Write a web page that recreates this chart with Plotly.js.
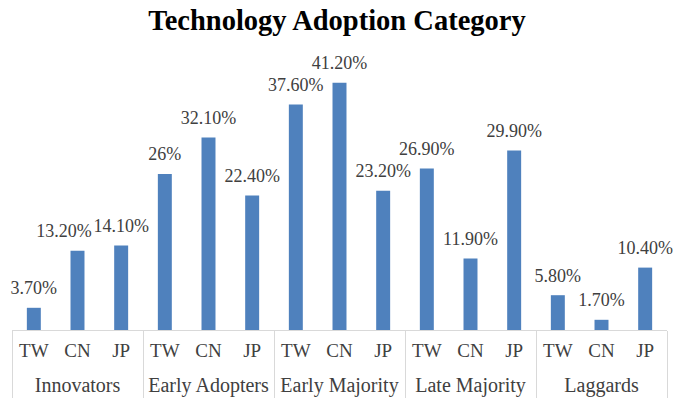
<!DOCTYPE html>
<html>
<head>
<meta charset="utf-8">
<script src="https://cdn.plot.ly/plotly-3.0.1.min.js"></script>
<style>html,body{margin:0;padding:0;background:#fff;}#chart{width:674px;height:402px;}</style>
</head>
<body>
<div id="chart"></div>
<script>
const groups = ["Innovators","Innovators","Innovators","Early Adopters","Early Adopters","Early Adopters","Early Majority","Early Majority","Early Majority","Late Majority","Late Majority","Late Majority","Laggards","Laggards","Laggards"];
const countries = ["TW","CN","JP","TW","CN","JP","TW","CN","JP","TW","CN","JP","TW","CN","JP"];
const values = [3.7,13.2,14.1,26,32.1,22.4,37.6,41.2,23.2,26.9,11.9,29.9,5.8,1.7,10.4];
const labels = ["3.70%","13.20%","14.10%","26%","32.10%","22.40%","37.60%","41.20%","23.20%","26.90%","11.90%","29.90%","5.80%","1.70%","10.40%"];

const SERIF = "Liberation Serif, Times New Roman, serif";
// display forms of the tick labels (a small spacer line under the country codes)
const countryTicks = countries.map(c => "<span style='font-size:19px'>" + c + "</span><br><span style='font-size:2px'> </span>");
const groupTicks = groups.map(g => "<span style='font-size:20px'>" + g + "</span>");
const xcats = [groupTicks, countryTicks];
// the original nudges the Innovators/CN label to the left so it does not collide with its neighbour
const shownLabels = labels.map((t, i) => i === 1 ? t + "\u00a0\u00a0\u00a0\u00a0\u00a0\u00a0" : t);

const bars = {
  type: "bar",
  x: xcats,
  y: values,
  marker: {color: "#4f81bd"},
  width: 0.32,
  hoverinfo: "none"
};

const valueLabels = {
  type: "scatter",
  mode: "markers+text",
  x: xcats,
  y: values,
  text: shownLabels,
  textposition: "top center",
  cliponaxis: false,
  marker: {size: 13, color: "rgba(0,0,0,0)"},
  textfont: {family: SERIF, size: 18, color: "#404040"},
  hoverinfo: "none"
};

const layout = {
  width: 674, height: 402,
  margin: {l: 12, r: 7, t: 60, b: 72},
  paper_bgcolor: "#fff", plot_bgcolor: "#fff",
  showlegend: false,
  title: {text: "<b>Technology Adoption Category</b>", x: 0.5, xanchor: "center", y: 0.95, yanchor: "middle",
    font: {family: SERIF, size: 28.5, color: "#000"}},
  xaxis: {
    type: "multicategory",
    range: [-0.5, 14.5], autorange: false,
    tickangle: 0,
    showline: true, linecolor: "#d9d9d9", linewidth: 1,
    showdividers: true, dividercolor: "#d9d9d9", dividerwidth: 1,
    ticks: "outside", ticklen: 15, tickcolor: "rgba(0,0,0,0)",
    ticklabelstandoff: 6,
    tickfont: {family: SERIF, size: 17, color: "#404040"}
  },
  yaxis: {range: [0, 45], visible: false, showgrid: false, zeroline: false, fixedrange: true}
};

Plotly.newPlot("chart", [bars, valueLabels], layout, {displayModeBar: false, staticPlot: true});
</script>
</body>
</html>
